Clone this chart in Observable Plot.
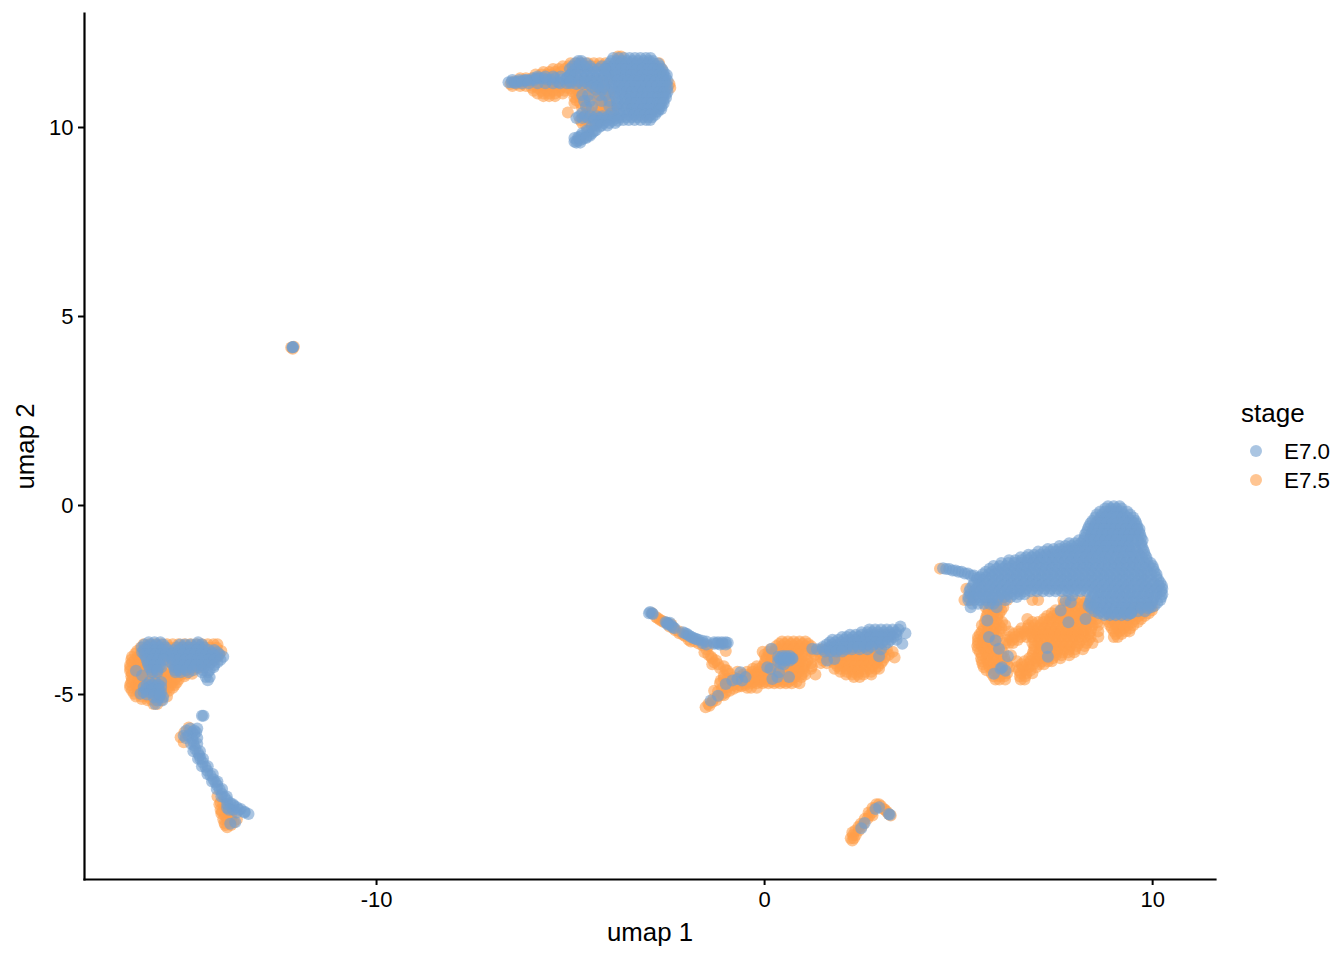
<!DOCTYPE html>
<html><head><meta charset="utf-8">
<script src="https://cdn.jsdelivr.net/npm/d3@7"></script>
<script src="https://cdn.jsdelivr.net/npm/@observablehq/plot@0.6"></script>
<style>
html,body{margin:0;padding:0;background:#fff}
#wrap{position:relative;width:1344px;height:960px;font-family:"Liberation Sans",Arial,sans-serif;color:#000}
#legend{position:absolute;left:1241px;top:398px}
#legend .t{font-size:26px;line-height:30px}
#legend .r{position:absolute;left:43px;font-size:22.4px;line-height:26px;white-space:nowrap}
#legend .s{position:absolute;left:9px;width:12px;height:12px;border-radius:50%;opacity:.6}
</style></head><body>
<div id="wrap"><div id="chart"></div><div id="legend"></div></div>
<script>
const stages = ["E7.0","E7.5"];
const stageColors = ["#729ECE","#FF9E4A"];
const xTicks = [-10,0,10];
const yTicks = [-5,0,5,10];
// rows: [y, x, x, x ...]
const topOrange = [
[11.88,-3.78,-3.7],[11.7,-5.0,-4.85,-4.7,-4.55,-4.4,-4.25,-4.1,-2.72],[11.55,-5.45,-5.3,-5.15,-5.0,-4.85,-2.65],
[11.4,-5.9,-5.75,-5.6,-5.45],[11.3,-6.3,-6.15,-6.0,-5.85],[11.15,-6.55,-6.4,-6.25,-2.45],[11.05,-6.0,-5.85,-5.7,-5.55,-5.4,-5.25,-5.1,-2.43],
[10.9,-5.85,-5.7,-5.55,-5.4,-5.2],[10.95,-4.95,-4.8,-4.6,-4.4,-4.2,-4.0],[11.25,-5.0,-4.85,-4.7,-4.55,-4.35,-4.2,-4.05],
[11.1,-4.95,-4.75,-4.6,-4.45,-4.3,-4.15],[10.8,-4.9,-4.75,-4.6,-4.45,-4.3,-4.15],[10.65,-4.9,-4.75,-4.6,-4.2,-4.05],[10.5,-4.7,-4.55,-4.4,-4.2,-4.05,-3.9],
[10.35,-4.6,-4.4,-4.25,-4.1,-3.95],[10.4,-5.07],[10.2,-4.75,-4.6,-4.4,-4.25],[10.05,-4.6,-4.45]
];
const topOrangeFill = [
[11.62,-5.2,-5.05,-4.9,-4.75,-4.6,-4.45,-4.3,-4.15],[11.47,-5.7,-5.55,-5.4,-5.25],[11.22,-6.45,-6.3,-6.15,-6.0,-5.85,-5.7,-5.55,-5.4],
[11.1,-6.5,-6.3,-6.15,-5.95,-5.8,-5.65,-5.5,-5.35,-5.2],[10.97,-5.95,-5.75,-5.6,-5.45,-5.3,-5.15],[10.83,-5.7,-5.55,-5.4],
[11.18,-5.05,-4.9,-4.78,-4.62,-4.45,-4.28,-4.12],[11.03,-5.0,-4.85,-4.7,-4.5,-4.35,-4.15],[10.87,-4.85,-4.65,-4.4,-4.25,-4.1,-4.0],
[10.72,-4.85,-4.65,-4.3,-4.1,-3.95],[10.57,-4.6,-4.3,-4.1,-3.95],[10.42,-4.5,-4.3,-4.1,-3.9],[10.27,-4.65,-4.5,-4.3,-4.15],[10.12,-4.7,-4.5,-4.35]
];
const topBlue = [
[11.2,-6.6,-6.52,-6.44],[11.22,-6.36,-6.28],[11.25,-6.2,-6.12,-6.04],[11.3,-5.96,-5.88,-5.8,-5.7,-5.4,-5.1],[11.27,-5.62,-5.52,-5.22],[11.2,-5.32],
[11.4,-5.0],[11.76,-4.8,-4.72],[11.62,-4.95,-4.8,-4.65,-4.5,-4.2],[11.47,-4.95,-4.8,-4.65,-4.5,-4.35,-4.2,-4.05],[11.3,-5.1,-4.95,-4.8,-4.65,-4.5,-4.35,-4.2],
[11.15,-4.85,-4.7,-4.55,-4.4,-4.25,-4.1],[11.0,-4.35,-4.2,-4.05],[10.85,-4.7,-4.55,-4.25,-4.1],[10.7,-4.65,-4.5,-4.2,-4.0],[10.55,-4.6,-4.45,-4.0],
[10.38,-4.7,-3.95],[10.25,-4.85,-4.7,-4.55,-4.4,-4.25,-4.1,-3.95,-3.8],[10.12,-4.3,-4.15,-4.0,-3.85],
[9.62,-4.9],[9.65,-4.83],[9.67,-4.75],[9.7,-4.68],[9.75,-4.8,-4.6],[9.8,-4.53],[9.85,-4.7,-4.45],[9.93,-4.58,-4.35],[10.02,-4.46,-4.25],
[11.76,-3.95,-3.82,-3.68,-3.54,-3.4,-3.26,-3.12,-2.98,-2.88],[11.62,-4.05,-3.91,-3.77,-3.63,-3.49,-3.35,-3.21,-3.07,-2.93,-2.79,-2.7],
[11.47,-4.05,-3.92,-3.78,-3.64,-3.5,-3.36,-3.22,-3.08,-2.94,-2.8,-2.68,-2.6],[11.32,-4.0,-3.86,-3.72,-3.58,-3.44,-3.3,-3.16,-3.02,-2.88,-2.74,-2.62,-2.55],
[11.17,-3.95,-3.82,-3.68,-3.54,-3.4,-3.26,-3.12,-2.98,-2.84,-2.7,-2.6,-2.54],[11.02,-3.9,-3.76,-3.62,-3.48,-3.34,-3.2,-3.06,-2.92,-2.78,-2.64,-2.52],
[10.87,-3.85,-3.72,-3.58,-3.44,-3.3,-3.16,-3.02,-2.88,-2.74,-2.62,-2.55],[10.72,-3.8,-3.66,-3.52,-3.38,-3.24,-3.1,-2.96,-2.82,-2.7,-2.6],
[10.57,-3.8,-3.66,-3.52,-3.38,-3.24,-3.1,-2.96,-2.82,-2.72,-2.65],[10.42,-3.75,-3.62,-3.48,-3.34,-3.2,-3.06,-2.92,-2.8,-2.75],
[10.27,-3.7,-3.56,-3.42,-3.28,-3.14,-3.0,-2.9]
];
const topBlueFill = [
[11.84,-3.9,-3.76,-3.62,-3.48,-3.34,-3.2,-3.06,-2.94],[11.69,-4.0,-3.84,-3.7,-3.56,-3.42,-3.28,-3.14,-3.0,-2.86,-2.74],
[11.54,-4.1,-3.98,-3.84,-3.7,-3.56,-3.42,-3.28,-3.14,-3.0,-2.86,-2.74,-2.64],[11.39,-4.03,-3.85,-3.71,-3.57,-3.43,-3.29,-3.15,-3.01,-2.87,-2.73,-2.6,-2.52],
[11.24,-3.98,-3.79,-3.65,-3.51,-3.37,-3.23,-3.09,-2.95,-2.81,-2.67,-2.56,-2.5],[11.09,-3.93,-3.75,-3.61,-3.47,-3.33,-3.19,-3.05,-2.91,-2.77,-2.63,-2.5],
[10.94,-3.88,-3.69,-3.55,-3.41,-3.27,-3.13,-2.99,-2.85,-2.71,-2.58,-2.5],[10.79,-3.83,-3.59,-3.45,-3.31,-3.17,-3.03,-2.89,-2.75,-2.62,-2.54],
[10.64,-3.78,-3.59,-3.45,-3.31,-3.17,-3.03,-2.89,-2.75,-2.68,-2.6],[10.49,-3.78,-3.55,-3.41,-3.27,-3.13,-2.99,-2.85,-2.72,-2.66],
[10.34,-3.72,-3.5,-3.36,-3.22,-3.08,-2.94,-2.82],[10.2,-3.64,-3.5,-3.35,-3.2,-3.05,-2.95],
[11.26,-6.5,-6.32,-6.15,-5.92],[11.17,-6.42,-6.25,-6.08,-5.85,-5.65,-5.45,-5.27,-5.1,-5.0],[11.35,-5.85,-5.65,-5.45,-5.25,-5.05],
[11.55,-5.02,-4.88,-4.72,-4.58,-4.43,-4.28,-4.12],[11.38,-5.0,-4.88,-4.72,-4.58,-4.43,-4.28,-4.12],[11.22,-5.0,-4.78,-4.62,-4.48,-4.32,-4.18],[11.7,-4.88,-4.75,-4.6],[11.08,-4.45,-4.3,-4.15],
[10.3,-4.78,-4.62,-4.48,-4.32,-4.18,-4.02,-3.88],[10.18,-4.4,-4.22,-4.08,-3.92,-3.78],[10.05,-4.35,-4.2,-4.05],[9.78,-4.72,-4.5],[9.9,-4.55,-4.4],[9.6,-4.85,-4.75],[9.72,-4.9,-4.78,-4.6]
];
const rightOrange = [
[-2.2,5.2],[-2.5,5.15,5.3,6.1,6.25,6.9,7.05,7.7,7.85,8.0,8.15,8.3],[-2.69,5.7,5.85,6.0,6.15,7.7,7.85,8.0,8.15,8.3,8.45,9.6,9.75,9.9,10.0],
[-2.85,5.75,5.9,6.05,7.4,7.55,7.7,7.85,8.0,8.15,8.3,8.45,9.3,9.45,9.6,9.75,9.9],[-3.0,5.7,5.85,6.0,6.77,7.2,7.35,7.5,7.65,7.8,7.95,8.1,8.25,8.4,8.55,8.8,8.95,9.1,9.25,9.4,9.55,9.7],
[-3.17,5.6,5.75,5.9,6.05,6.2,6.8,6.95,7.1,7.25,7.4,7.55,7.7,7.85,8.0,8.15,8.3,8.45,8.6,8.9,9.05,9.2,9.35,9.5],
[-3.33,5.6,5.75,5.9,6.05,6.3,6.55,6.7,6.85,7.0,7.15,7.3,7.45,7.6,7.75,7.9,8.05,8.2,8.4,8.6,9.0,9.15,9.3,9.4],
[-3.48,5.5,5.65,5.8,6.0,6.3,6.45,6.6,6.75,6.9,7.05,7.2,7.35,7.5,7.65,7.8,7.95,8.1,8.25,8.4,8.6,9.0,9.1],
[-3.64,5.5,5.65,5.75,5.9,6.2,6.3,6.4,6.9,7.05,7.2,7.35,7.5,7.65,7.8,7.95,8.1,8.3,8.45],
[-3.8,5.5,5.65,5.8,5.95,6.1,6.95,7.1,7.25,7.4,7.55,7.7,7.85,8.0,8.2],[-3.96,5.6,5.75,5.9,6.1,6.35,6.9,7.05,7.2,7.35,7.5,7.65,7.85],
[-4.12,5.6,5.75,5.9,6.05,6.2,6.5,6.7,6.85,7.0,7.15,7.3,7.4],[-4.28,5.65,5.8,5.95,6.1,6.3,6.5,6.65,6.8,7.0],[-4.44,5.85,6.0,6.15,6.25,6.6,6.75,6.9],
[-4.6,5.95,6.05,6.2,6.6,6.7],[-1.67,4.52]
];
const rightOrangeFill = [
[-2.6,5.78,5.93,6.08,7.72,7.92,8.08,8.25,8.38],[-2.77,5.78,5.95,6.1,7.5,7.65,7.8,7.95,8.1,8.25,8.4,9.4,9.55,9.7,9.85,9.98],
[-2.92,5.72,5.88,6.0,7.28,7.45,7.6,7.75,7.9,8.05,8.2,8.35,8.5,8.9,9.05,9.2,9.35,9.5,9.65,9.8],
[-3.08,5.68,5.82,5.96,6.12,6.9,7.05,7.2,7.35,7.5,7.65,7.8,7.95,8.1,8.25,8.4,8.58,8.88,9.02,9.18,9.32,9.48,9.62],
[-3.25,5.65,5.8,5.95,6.1,6.62,6.78,6.92,7.08,7.22,7.38,7.52,7.68,7.82,7.98,8.12,8.28,8.42,8.95,9.1,9.25,9.42],
[-3.4,5.55,5.72,5.88,6.02,6.42,6.58,6.72,6.88,7.02,7.18,7.32,7.48,7.62,7.78,7.92,8.08,8.22,8.36,9.05,9.2],
[-3.56,5.5,5.62,5.78,5.95,6.25,6.38,6.52,6.95,7.1,7.25,7.4,7.55,7.7,7.85,8.0,8.15,8.35],
[-3.72,5.48,5.6,5.75,5.9,6.02,6.95,7.12,7.28,7.42,7.58,7.72,7.88,8.05,8.25],
[-3.88,5.55,5.7,5.85,6.0,6.15,6.92,7.08,7.22,7.38,7.52,7.68,7.82,7.98],
[-4.04,5.58,5.72,5.88,6.02,6.18,6.82,6.98,7.12,7.28,7.42,7.62],[-4.2,5.62,5.78,5.92,6.08,6.25,6.62,6.78,6.92,7.08,7.2],
[-4.36,5.72,5.88,6.02,6.18,6.55,6.7,6.85],[-4.52,5.9,6.05,6.18,6.58,6.72]
];
const rightBlue = [
[-1.66,4.6],[-1.68,4.68,4.76],[-1.72,4.84,4.92],[-1.75,5.0,5.08],[-1.8,5.16,5.24],[-1.85,5.32,5.4],[-1.92,5.48],
[-0.08,8.78,8.92,9.06,9.2],[-0.24,8.56,8.7,8.84,8.98,9.12,9.26,9.42],[-0.4,8.45,8.6,8.74,8.88,9.02,9.16,9.3,9.44,9.55],
[-0.55,8.36,8.5,8.64,8.78,8.92,9.06,9.2,9.34,9.48,9.6],[-0.7,8.3,8.44,8.58,8.72,8.86,9.0,9.14,9.28,9.42,9.56,9.65],
[-0.85,8.25,8.4,8.54,8.68,8.82,8.96,9.1,9.24,9.38,9.52,9.7],[-1.0,7.85,8.0,8.15,8.3,8.45,8.6,8.75,8.9,9.05,9.2,9.35,9.5,9.7],
[-1.15,7.3,7.45,7.6,7.75,7.9,8.05,8.2,8.35,8.5,8.65,8.8,8.95,9.1,9.25,9.4,9.55,9.75],
[-1.3,6.8,6.95,7.1,7.25,7.4,7.55,7.7,7.85,8.0,8.15,8.3,8.45,8.6,8.75,8.9,9.05,9.2,9.35,9.5,9.65,9.8],
[-1.45,6.3,6.46,6.62,6.78,6.94,7.1,7.26,7.42,7.58,7.74,7.9,8.06,8.22,8.38,8.54,8.7,8.86,9.02,9.18,9.34,9.5,9.66,9.85],
[-1.6,5.9,6.06,6.22,6.38,6.54,6.7,6.86,7.02,7.18,7.34,7.5,7.66,7.82,7.98,8.14,8.3,8.46,8.62,8.78,8.94,9.1,9.26,9.42,9.58,9.74,9.9,10.0],
[-1.75,5.7,5.86,6.02,6.18,6.34,6.5,6.66,6.82,6.98,7.14,7.3,7.46,7.62,7.78,7.94,8.1,8.26,8.42,8.58,8.74,8.9,9.06,9.22,9.38,9.54,9.7,9.86,10.05],
[-1.9,5.55,5.7,5.86,6.02,6.18,6.34,6.5,6.66,6.82,6.98,7.14,7.3,7.46,7.62,7.78,7.94,8.1,8.26,8.42,8.58,8.74,8.9,9.06,9.22,9.38,9.54,9.7,9.86,10.1],
[-2.05,5.4,5.56,5.72,5.88,6.04,6.2,6.36,6.52,6.68,6.84,7.0,7.16,7.32,7.48,7.64,7.8,7.96,8.12,8.28,8.44,8.6,8.76,8.92,9.08,9.24,9.4,9.56,9.72,9.88,10.04,10.2],
[-2.2,5.3,5.46,5.62,5.78,5.94,6.1,6.26,6.42,6.58,6.74,6.9,7.06,7.22,7.38,7.54,7.7,7.86,8.02,8.18,8.34,8.5,8.66,8.82,8.98,9.14,9.3,9.46,9.62,9.78,9.94,10.1,10.25],
[-2.35,5.3,5.46,5.62,5.78,5.94,6.1,6.26,6.42,6.58,6.7,8.5,8.66,8.82,8.98,9.14,9.3,9.46,9.62,9.78,9.94,10.1,10.25],
[-2.5,5.25,5.4,5.55,5.7,5.85,6.0,6.2,8.4,8.56,8.72,8.88,9.04,9.2,9.36,9.52,9.68,9.84,10.0,10.2],
[-2.6,5.35,5.5,5.65,5.8,5.9],[-2.65,8.35,8.5,8.66,8.82,8.98,9.14,9.3,9.46,9.62,9.78,9.92,10.05],[-2.8,8.5,8.66,8.82,8.98,9.14,9.3,9.46,9.62,9.8],[-2.9,8.75,8.9,9.05,9.2,9.35],
[-3.04,5.74],[-3.48,5.78],[-3.57,5.95],[-3.79,6.04],[-3.99,6.27],[-4.28,6.12],[-4.32,6.08],[-4.45,5.91],[-4.37,6.21],[-3.77,7.28],[-4.0,7.3],[-3.09,7.83],[-3.0,8.27],[-2.78,7.63],[-2.51,7.76],[-2.38,7.93],[-2.56,7.89],[-2.69,5.98,9.95,5.31],[-2.85,9.43]
];
const rightBlueFill = [
[-0.02,8.85,9.0,9.15],[-0.16,8.65,8.78,8.92,9.06,9.2,9.34],[-0.32,8.52,8.66,8.8,8.94,9.08,9.22,9.36,9.5],
[-0.47,8.4,8.54,8.68,8.82,8.96,9.1,9.24,9.38,9.52,9.58],[-0.62,8.33,8.48,8.62,8.76,8.9,9.04,9.18,9.32,9.46,9.6,9.66],
[-0.77,8.26,8.42,8.56,8.7,8.84,8.98,9.12,9.26,9.4,9.54,9.68],[-0.92,8.1,8.22,8.36,8.5,8.64,8.78,8.92,9.06,9.2,9.34,9.48,9.62,9.74],
[-1.07,7.6,7.75,7.9,8.05,8.2,8.35,8.5,8.65,8.8,8.95,9.1,9.25,9.4,9.55,9.72],
[-1.22,7.05,7.2,7.35,7.5,7.65,7.8,7.95,8.1,8.25,8.4,8.55,8.7,8.85,9.0,9.15,9.3,9.45,9.6,9.78],
[-1.37,6.6,6.74,6.88,7.02,7.16,7.32,7.48,7.64,7.8,7.96,8.12,8.28,8.44,8.6,8.76,8.92,9.08,9.24,9.4,9.56,9.72,9.84],
[-1.52,6.1,6.28,6.44,6.6,6.76,6.92,7.08,7.24,7.4,7.56,7.72,7.88,8.04,8.2,8.36,8.52,8.68,8.84,9.0,9.16,9.32,9.48,9.64,9.8,9.95],
[-1.67,5.8,5.98,6.14,6.3,6.46,6.62,6.78,6.94,7.1,7.26,7.42,7.58,7.74,7.9,8.06,8.22,8.38,8.54,8.7,8.86,9.02,9.18,9.34,9.5,9.66,9.82,10.02],
[-1.82,5.62,5.78,5.94,6.1,6.26,6.42,6.58,6.74,6.9,7.06,7.22,7.38,7.54,7.7,7.86,8.02,8.18,8.34,8.5,8.66,8.82,8.98,9.14,9.3,9.46,9.62,9.78,9.96,10.1],
[-1.97,5.48,5.64,5.8,5.96,6.12,6.28,6.44,6.6,6.76,6.92,7.08,7.24,7.4,7.56,7.72,7.88,8.04,8.2,8.36,8.52,8.68,8.84,9.0,9.16,9.32,9.48,9.64,9.8,9.96,10.15],
[-2.12,5.36,5.52,5.68,5.84,6.0,6.16,6.32,6.48,6.64,6.8,6.96,7.12,7.28,7.44,7.6,7.76,7.92,8.08,8.24,8.4,8.56,8.72,8.88,9.04,9.2,9.36,9.52,9.68,9.84,10.0,10.16,10.24],
[-2.27,5.28,5.42,5.58,5.74,5.9,6.06,6.22,6.38,6.54,6.7,6.86,7.02,7.18,7.34,7.5,7.66,7.82,7.98,8.14,8.3,8.46,8.62,8.78,8.94,9.1,9.26,9.42,9.58,9.74,9.9,10.06,10.22],
[-2.42,5.25,5.38,5.54,5.7,5.86,6.02,6.18,6.34,6.5,8.44,8.6,8.76,8.92,9.08,9.24,9.4,9.56,9.72,9.88,10.04,10.22],
[-2.57,8.38,8.54,8.7,8.86,9.02,9.18,9.34,9.5,9.66,9.82,9.98,10.12],[-2.72,8.42,8.58,8.74,8.9,9.06,9.22,9.38,9.54,9.7,9.88],[-2.85,8.62,8.8,8.96,9.12,9.28,9.44]
];
const midOrange = [
[-2.95,-2.8],[-3.02,-2.7],[-3.08,-2.6],[-3.2,-2.45],[-3.3,-2.3],[-3.33,-2.2],[-3.42,-2.1],[-3.55,-1.96],[-3.6,-1.8],[-3.7,-1.6],[-3.8,-1.5],[-3.85,-1.0],[-3.95,-1.45],[-4.05,-1.35],[-4.15,-1.3],[-4.2,-1.2],[-4.3,-1.15],
[-3.6,0.45,0.6,0.75,0.9,1.05],[-3.72,0.3,0.45,0.6,0.75,0.9,1.05,1.2],[-3.87,-0.05,0.1,0.25,0.4,0.55,0.7,0.85,1.0,1.2,1.4,1.55,1.7,1.85,2.0,2.15,2.3,2.45,2.6,2.75,2.9,3.05,3.3],
[-4.02,0.05,0.2,0.35,0.5,0.65,0.8,0.95,1.2,1.45,1.6,1.75,1.9,2.05,2.2,2.35,2.5,2.65,2.8,2.95,3.1,3.35],
[-4.17,0.0,0.15,0.3,0.45,0.6,0.75,0.9,1.05,1.2,1.45,1.6,1.8,1.95,2.1,2.25,2.4,2.55,2.7,2.85,3.0],
[-4.32,-0.3,-0.15,0.0,0.15,0.3,0.45,0.6,0.75,0.9,1.0,1.2,1.8,1.95,2.1,2.25,2.4,2.55,2.7,2.85,2.95],[-4.47,-0.55,-0.4,-0.25,-0.1,0.05,0.2,0.35,0.5,0.65,0.8,0.95,1.05,1.31,2.1,2.25,2.4,2.55,2.75],
[-4.6,-0.7,-0.55,-0.4,-0.25,-0.1,0.05,0.2,0.35,0.5,0.7],[-4.7,-0.5,-0.35,-0.2,-0.05,0.1,0.25,0.4,0.55,0.7,0.9],
[-5.34,-1.52],[-5.3,-1.42],[-5.2,-1.35],[-5.15,-1.25],[-5.05,-1.2],[-5.0,-1.1],[-4.95,-1.0],[-4.9,-0.9],[-4.85,-0.8],[-4.8,-0.7],[-4.78,-0.6],
[-4.5,-1.05],[-4.45,-0.9],[-4.55,-0.8],[-4.4,-0.7],[-4.7,-1.15,-1.0],[-4.65,-0.9,-0.7],[-4.37,-0.96],[-4.63,-1.13],[-4.9,-1.3]
];
const midOrangeFill = [
[-2.85,-2.9],[-2.98,-2.75],[-3.05,-2.65],[-3.12,-2.5],[-3.15,-2.4],[-3.25,-2.35],[-3.38,-2.2],[-3.45,-2.05],[-3.6,-1.9],[-3.65,-1.7],[-3.72,-1.45],[-3.88,-1.55],[-4.0,-1.38],[-4.1,-1.25],[-4.25,-1.05],[-4.35,-1.0],[-4.2,-1.35],
[-3.66,0.38,0.52,0.68,0.82,0.98,1.12],[-3.8,0.15,0.3,0.45,0.6,0.75,0.9,1.05,1.2,1.45,1.6,1.75,1.9,2.05,2.2,2.35,2.5,2.65,2.8,2.95,3.15],
[-3.95,0.0,0.12,0.28,0.42,0.58,0.72,0.88,1.05,1.3,1.5,1.65,1.82,1.98,2.12,2.28,2.42,2.58,2.72,2.88,3.02,3.2],
[-4.1,0.02,0.18,0.32,0.48,0.62,0.78,0.92,1.1,1.5,1.68,1.85,2.0,2.15,2.3,2.45,2.6,2.75,2.9,3.05],
[-4.25,-0.2,-0.05,0.1,0.25,0.4,0.55,0.7,0.85,1.02,1.22,1.88,2.02,2.18,2.32,2.48,2.62,2.78,2.92],
[-4.4,-0.45,-0.3,-0.15,0.0,0.12,0.28,0.42,0.58,0.72,0.88,1.02,1.95,2.12,2.28,2.42,2.58,2.75],
[-4.54,-0.65,-0.48,-0.32,-0.18,-0.02,0.12,0.28,0.42,0.58,0.78,0.95,2.3,2.45],[-4.66,-0.62,-0.42,-0.28,-0.12,0.02,0.18,0.32,0.48,0.62,0.82],
[-5.25,-1.45],[-5.12,-1.32],[-5.02,-1.05],[-4.92,-1.2],[-4.85,-1.1],[-4.8,-0.95],[-4.75,-0.82,-0.65,-0.5],[-4.58,-1.05,-0.95],[-4.82,-0.45,-0.35,-0.2]
];
const midBlue = [
[-2.82,-2.95],[-2.87,-2.88],[-3.08,-2.55],[-3.13,-2.48],[-3.18,-2.4],[-3.25,-2.32],[-3.35,-2.1],[-3.4,-2.0],[-3.47,-1.9],[-3.52,-1.8],[-3.55,-1.7],[-3.58,-1.6],[-3.6,-1.5],[-3.68,-1.5],[-3.62,-1.3,-1.2,-1.1,-1.0],[-3.63,-0.95],[-3.66,-1.3],[-3.68,-1.15,-1.0],
[-5.16,-1.39],[-5.03,-1.2],[-4.72,-1.0],[-4.63,-0.83,-0.58],[-4.59,-0.7,0.2],[-4.41,-0.62,0.37],[-4.54,-0.49,0.33,0.63],[-3.79,0.18,1.23],[-4.28,0.07],[-4.32,0.15],
[-3.98,0.45,0.55,0.65],[-4.0,0.35],[-4.05,0.72],[-4.12,0.35],[-4.1,0.45,0.55,0.65,1.61],[-4.2,0.5],[-4.18,0.42],[-4.06,1.8],[-3.99,2.95],[-3.66,3.55],[-3.38,3.63],[-3.2,3.5],
[-3.28,2.7,2.85,3.0,3.15,3.3,3.45],[-3.42,2.2,2.35,2.5,2.65,2.8,2.95,3.1,3.25,3.4],[-3.55,1.75,1.9,2.05,2.2,2.35,2.5,2.65,2.8,2.95,3.1,3.25,3.4],[-3.68,1.6,1.75,1.9,2.05,2.2,2.35,2.5,2.65,2.8,2.95,3.1],[-3.8,1.35,1.5,1.65,1.8,1.95,2.1,2.25,2.45,2.65,3.0]
];
const midBlueFill = [
[-2.85,-2.98,-2.9],[-3.1,-2.52,-2.44],[-3.22,-2.36],[-3.15,-2.5],[-3.38,-2.05],[-3.44,-1.95],[-3.5,-1.85],[-3.54,-1.75],[-3.64,-1.6],[-3.65,-1.22,-1.08],
[-3.35,2.5,2.65,2.78,2.92,3.08,3.22,3.38],[-3.48,2.0,2.12,2.28,2.42,2.58,2.72,2.88,3.02,3.18,3.32],[-3.62,1.68,1.82,1.98,2.12,2.28,2.42,2.58,2.72,2.88,3.02,3.18],[-3.74,1.5,1.68,1.82,1.98,2.12,2.28,2.42,2.58,2.75],[-3.86,1.55,1.7,1.85,2.0],
[-4.04,0.4,0.5,0.6,0.7]
];
const leftOrange = [
[-3.67,-16.0,-15.85,-15.7,-15.55,-15.4,-15.25,-15.1,-14.95,-14.8,-14.65,-14.5,-14.35,-14.2,-14.1],
[-3.85,-16.17,-16.0,-15.85,-15.7,-15.55,-15.4,-15.25,-15.1,-14.95,-14.8,-14.65,-14.5,-14.35,-14.2,-14.0],
[-4.0,-16.3,-16.15,-16.0,-15.85,-15.7,-15.55,-15.4,-15.25,-15.1,-14.95,-14.8,-14.65,-14.5,-14.35,-14.1],
[-4.15,-16.3,-16.15,-16.0,-15.85,-15.7,-15.55,-15.3,-15.15,-15.0,-14.85,-14.7,-14.55,-14.4],
[-4.3,-16.35,-16.2,-16.05,-15.9,-15.75,-15.6,-15.3,-15.15,-15.0,-14.85,-14.7,-14.6],
[-4.45,-16.3,-16.15,-16.0,-15.85,-15.6,-15.45,-15.3,-15.15,-15.0,-14.9,-14.75],
[-4.6,-16.3,-16.15,-16.0,-15.85,-15.7,-15.5,-15.35,-15.2,-15.1],[-4.75,-16.35,-16.2,-16.05,-15.9,-15.75,-15.6,-15.45,-15.3,-15.2],
[-4.9,-16.3,-16.15,-16.0,-15.85,-15.7,-15.55,-15.35],[-5.05,-16.2,-16.05,-15.9,-15.75,-15.6,-15.4],[-5.15,-15.9,-15.75,-15.55],[-5.25,-15.75,-15.65],
[-5.87,-14.84],[-6.13,-15.05],[-6.26,-14.97],[-6.0,-14.95],
[-7.85,-14.02],[-8.1,-13.98],[-8.2,-13.9,-13.75],[-8.38,-13.68],[-8.3,-13.85],[-8.51,-13.85],[-8.0,-13.9],
[-7.9,-14.05,-13.95],[-8.05,-14.02],[-8.15,-14.0,-13.8],[-8.3,-13.95,-13.75,-13.6],[-8.45,-13.9,-13.75],[-8.4,-13.92],[-7.7,-14.1],
[-8.65,2.26],[-8.86,2.26],[-8.8,2.3,2.22],[-8.72,2.35,2.28],[-8.6,2.43,2.34],[-8.5,2.5,2.42],[-8.42,2.55,2.48],[-8.29,2.65,2.58],[-8.2,2.7,2.78],[-8.12,2.77,2.68],[-8.0,2.85,2.78],[-7.9,2.95,2.88],[-7.95,3.0],[-8.03,3.07],[-8.05,3.1],[-8.1,3.15],[-8.16,3.2],[-8.2,3.25]
];
const leftOrangeFill = [
[-3.76,-16.08,-15.92,-15.78,-15.62,-15.48,-15.32,-15.18,-15.02,-14.88,-14.72,-14.58,-14.42,-14.28,-14.12],
[-3.92,-16.22,-16.08,-15.92,-15.78,-15.62,-15.48,-15.32,-15.18,-15.02,-14.88,-14.72,-14.58,-14.42,-14.28,-14.06],
[-4.08,-16.32,-16.22,-16.08,-15.92,-15.78,-15.62,-15.48,-15.22,-15.08,-14.92,-14.78,-14.62,-14.48,-14.3],
[-4.22,-16.35,-16.12,-15.98,-15.82,-15.68,-15.25,-15.08,-14.92,-14.78,-14.62,-14.5],[-4.38,-16.35,-16.12,-15.98,-15.82,-15.55,-15.38,-15.22,-15.08,-14.92,-14.78],
[-4.52,-16.32,-16.08,-15.92,-15.72,-15.58,-15.42,-15.28,-15.12,-14.95],[-4.68,-16.32,-16.12,-15.98,-15.82,-15.62,-15.42,-15.28,-15.15],[-4.82,-16.35,-16.12,-15.98,-15.82,-15.68,-15.52,-15.38,-15.25],[-4.98,-16.25,-16.1,-15.95,-15.8,-15.65,-15.48],[-5.12,-16.05,-15.82,-15.65]
];
const leftBlue = [
[-3.62,-15.87,-15.72,-15.57,-14.6],[-3.75,-16.05,-15.9,-15.75,-15.6,-15.44,-15.14,-15.0,-14.85,-14.7,-14.55,-14.45],
[-3.88,-16.04,-15.9,-15.75,-15.6,-15.45,-15.3,-15.15,-15.0,-14.85,-14.7,-14.55,-14.4,-14.25,-14.1],
[-4.0,-15.95,-15.8,-15.65,-15.5,-15.35,-15.2,-15.05,-14.9,-14.75,-14.6,-14.45,-14.3,-14.15,-13.95],
[-4.15,-15.9,-15.75,-15.6,-15.3,-15.15,-15.0,-14.85,-14.7,-14.55,-14.4,-14.25,-14.1],[-4.28,-15.85,-15.7,-15.55,-15.2,-15.05,-14.9,-14.75,-14.6,-14.45,-14.2],
[-4.41,-15.78,-15.65,-15.18,-15.05,-14.85,-14.5,-14.35],[-4.54,-14.4,-14.3],[-4.62,-14.35],
[-4.67,-15.85,-15.7,-15.55],[-4.8,-16.0,-15.85,-15.7,-15.55],[-4.94,-16.0,-15.85,-15.7,-15.55],[-5.07,-15.74,-15.6,-15.5],[-5.16,-15.65,-15.52],
[-4.37,-16.2],[-4.5,-16.04],[-4.98,-16.08],[-5.25,-15.7],
[-5.56,-14.5,-14.46],[-6.0,-14.75,-14.65],[-6.09,-14.97,-14.85],[-6.05,-14.7],[-6.17,-14.75],[-6.25,-14.72],[-6.35,-14.7],[-6.44,-14.67],[-6.55,-14.6],[-6.62,-14.56],[-6.7,-14.54],[-6.8,-14.48],[-6.92,-14.41],[-7.02,-14.36],[-7.14,-14.28],[-7.25,-14.2],[-7.33,-14.15],[-7.41,-14.1],[-7.52,-14.04],[-7.63,-13.98],[-7.72,-13.92],[-7.8,-13.85],[-7.87,-13.77],[-7.94,-13.68],[-7.98,-13.6],[-8.03,-13.5],[-8.1,-13.4],[-8.16,-13.3],[-8.0,-13.85],[-8.05,-13.7],
[-8.42,-13.77],[-8.38,-13.64],
[-8.54,2.49],[-8.4,2.58],[-7.98,2.95],[-8.03,2.86],[-8.16,3.2],[-8.18,3.23]
];
const leftBlueFill = [
[-3.68,-15.98,-15.82,-15.66,-15.5,-15.06,-14.92,-14.78,-14.62,-14.5],[-3.82,-16.0,-15.84,-15.68,-15.52,-15.38,-15.22,-15.08,-14.92,-14.78,-14.62,-14.48,-14.32,-14.18],
[-3.94,-15.98,-15.84,-15.7,-15.56,-15.42,-15.28,-15.12,-14.98,-14.82,-14.68,-14.52,-14.38,-14.22,-14.05],[-4.08,-15.92,-15.78,-15.62,-15.48,-15.25,-15.08,-14.92,-14.78,-14.62,-14.48,-14.32,-14.18,-14.02],
[-4.22,-15.88,-15.72,-15.58,-15.25,-15.1,-14.95,-14.8,-14.65,-14.5,-14.32,-14.18],[-4.35,-15.8,-15.65,-15.2,-15.08,-14.9,-14.72,-14.48,-14.3],
[-4.74,-15.92,-15.78,-15.62],[-4.87,-15.95,-15.78,-15.62],[-5.0,-15.92,-15.72,-15.58],
[-5.95,-14.9,-14.7],[-5.9,-14.8,-14.62],[-6.15,-14.92,-14.62],[-6.3,-14.78,-14.62],[-6.5,-14.72,-14.55],[-6.7,-14.6,-14.47],[-6.9,-14.5,-14.35],[-7.1,-14.36,-14.22],[-7.3,-14.24,-14.1],[-7.5,-14.12,-13.98],[-7.7,-14.0,-13.86],[-7.9,-13.85,-13.7],[-8.05,-13.8,-13.55],[-8.12,-13.6,-13.4]
];
const loneOrange = [[4.18,-12.2],[4.2,-12.13],[4.15,-12.16]];
const loneBlue = [[4.19,-12.16,-12.15],[4.18,-12.17]];
const pts = rows => rows.flatMap(([y,...xs]) => xs.map(x => ({x,y})));
const orangePts = [...topOrange,...topOrangeFill,...rightOrange,...rightOrangeFill,...midOrange,...midOrangeFill,...leftOrange,...leftOrangeFill,...loneOrange];
const bluePts = [...topBlue,...topBlueFill,...rightBlue,...rightBlueFill,...midBlue,...midBlueFill,...leftBlue,...leftBlueFill,...loneBlue];
const font = "Liberation Sans, Arial, sans-serif";

const chart = Plot.plot({
  width:1344, height:960,
  marginLeft:84, marginRight:129, marginTop:13, marginBottom:81,
  style:{fontFamily:font, background:"#fff", color:"#000"},
  x:{domain:[-17.526,11.62]},
  y:{domain:[-9.894,13.016]},
  marks:[
    Plot.dot(pts(orangePts),{x:"x",y:"y",r:6,fill:stageColors[1],fillOpacity:.6,stroke:null}),
    Plot.dot(pts(bluePts),{x:"x",y:"y",r:6,fill:stageColors[0],fillOpacity:.6,stroke:null}),
    Plot.frame({anchor:"left",stroke:"#000",strokeWidth:2.2}),
    Plot.frame({anchor:"bottom",stroke:"#000",strokeWidth:2.2}),
    Plot.axisX({ticks:xTicks,tickSize:6,tickPadding:6,strokeWidth:2,tickFormat:d=>String(d),fontSize:22,label:"umap 1",labelAnchor:"center",labelArrow:"none",labelOffset:61}),
    Plot.axisY({ticks:yTicks,tickSize:6,tickPadding:5,strokeWidth:2,tickFormat:d=>String(d),fontSize:22,label:"umap 2",labelAnchor:"center",labelArrow:"none",labelOffset:69})
  ]
});
document.getElementById("chart").append(chart);
chart.querySelectorAll('[aria-label="x-axis label"] text, [aria-label="y-axis label"] text').forEach(t=>t.setAttribute("font-size","25.8"));

const legend = document.getElementById("legend");
legend.innerHTML = '<div class="t">stage</div>' + stages.map((s,i)=>
 `<div class="s" style="top:${47+i*29}px;background:${stageColors[i]}"></div><div class="r" style="top:${41+i*29}px">${s}</div>`).join("");
</script>
</body></html>
